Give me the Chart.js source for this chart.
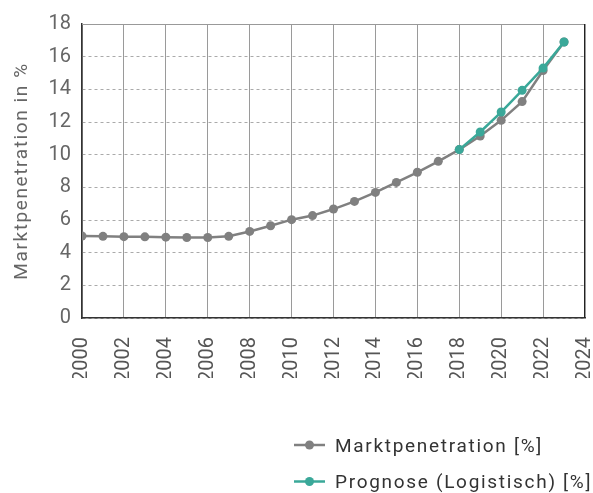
<!DOCTYPE html>
<html>
<head>
<meta charset="utf-8">
<script src="https://cdn.jsdelivr.net/npm/chart.js@4/dist/chart.umd.min.js"></script>
<style>
html,body{margin:0;padding:0;background:#fff;}
#wrap{width:593px;height:493px;position:relative;}
</style>
</head>
<body>
<div id="wrap"><canvas id="c" width="593" height="493"></canvas></div>
<script>
const years = [2000,2001,2002,2003,2004,2005,2006,2007,2008,2009,2010,2011,2012,2013,2014,2015,2016,2017,2018,2019,2020,2021,2022,2023];
const marktpenetration = [5.02,5.0,4.98,4.97,4.95,4.93,4.93,5.0,5.3,5.65,6.02,6.27,6.67,7.14,7.69,8.3,8.92,9.59,10.31,11.14,12.1,13.25,15.15,16.9];
const prognoseYears = [2018,2019,2020,2021,2022,2023];
const prognose = [10.31,11.39,12.61,13.94,15.3,16.9];
const seriesLabels = ['Marktpenetration [%]','Prognose (Logistisch) [%]'];
const yTitle = 'Marktpenetration in %';

const GREY = '#808080';
const TEAL = '#3aa899';
const FONT = 'Roboto';

const borderPlugin = {
  id: 'areaBorder',
  afterDatasetsDraw(chart) {
    const {ctx, chartArea: a} = chart;
    ctx.save();
    ctx.lineWidth = 1;
    ctx.strokeStyle = '#999';
    ctx.beginPath(); ctx.moveTo(a.left, a.top + 0.5); ctx.lineTo(a.right, a.top + 0.5); ctx.stroke();
    ctx.strokeStyle = '#222';
    ctx.beginPath(); ctx.moveTo(a.right - 0.5, a.top); ctx.lineTo(a.right - 0.5, a.bottom); ctx.stroke();
    ctx.restore();
  }
};

const textPlugin = {
  id: 'titleAndLegend',
  afterDraw(chart) {
    const {ctx, chartArea: a} = chart;
    ctx.save();
    // y axis title
    ctx.translate(22, (a.top + a.bottom) / 2);
    ctx.rotate(-Math.PI / 2);
    ctx.font = '19px ' + FONT;
    ctx.letterSpacing = '1.6px';
    ctx.fillStyle = '#666';
    ctx.textAlign = 'center';
    ctx.textBaseline = 'middle';
    ctx.fillText(yTitle, 0, 0);
    ctx.restore();

    // stacked legend
    const x0 = 294, rows = [445, 481.5];
    ctx.save();
    chart.data.datasets.forEach((ds, i) => {
      const y = rows[i];
      ctx.strokeStyle = ds.borderColor;
      ctx.lineWidth = 2.5;
      ctx.beginPath(); ctx.moveTo(x0, y); ctx.lineTo(x0 + 31, y); ctx.stroke();
      ctx.fillStyle = ds.borderColor;
      ctx.beginPath(); ctx.arc(x0 + 15.5, y, 4.5, 0, Math.PI * 2); ctx.fill();
      ctx.fillStyle = '#333';
      ctx.font = '19px ' + FONT;
      ctx.letterSpacing = '1.7px';
      ctx.textBaseline = 'alphabetic';
      ctx.textAlign = 'left';
      ctx.fillText(ds.label, x0 + 41, y + 6.8);
    });
    ctx.restore();
  }
};

new Chart(document.getElementById('c'), {
  type: 'line',
  data: {
    datasets: [
      {
        label: seriesLabels[0],
        data: years.map((x, i) => ({x, y: marktpenetration[i]})),
        borderColor: GREY, backgroundColor: GREY,
        pointBackgroundColor: GREY, pointBorderColor: GREY,
        borderWidth: 2.5, pointRadius: 4.5, pointBorderWidth: 0,
        tension: 0, order: 1
      },
      {
        label: seriesLabels[1],
        data: prognoseYears.map((x, i) => ({x, y: prognose[i]})),
        borderColor: TEAL, backgroundColor: TEAL,
        pointBackgroundColor: TEAL, pointBorderColor: TEAL,
        borderWidth: 2.5, pointRadius: 4.5, pointBorderWidth: 0,
        tension: 0, order: 0
      }
    ]
  },
  options: {
    responsive: false,
    animation: false,
    devicePixelRatio: 1,
    layout: { padding: { top: 24, right: 8, bottom: 115, left: 0 } },
    plugins: {
      legend: { display: false },
      tooltip: { enabled: false }
    },
    scales: {
      x: {
        type: 'linear', min: 2000, max: 2024,
        afterFit(s) { s.height = 60; s.paddingRight = 0; s.paddingLeft = 0; },
        ticks: {
          stepSize: 2, minRotation: 90, maxRotation: 90, padding: 19,
          color: '#555', font: { family: FONT, size: 20 },
          callback: v => String(v)
        },
        grid: { color: '#9a9a9a', lineWidth: 1, drawTicks: false },
        border: { color: '#333', width: 1.5 }
      },
      y: {
        min: 0, max: 18,
        afterFit(s) { s.width = 82; },
        ticks: {
          stepSize: 2, padding: 11,
          color: '#666', font: { family: FONT, size: 20 }
        },
        grid: { color: '#aaa', lineWidth: 1, drawTicks: false },
        border: { color: '#333', width: 1.5, dash: [3, 3] }
      }
    }
  },
  plugins: [borderPlugin, textPlugin]
});
</script>
</body>
</html>
